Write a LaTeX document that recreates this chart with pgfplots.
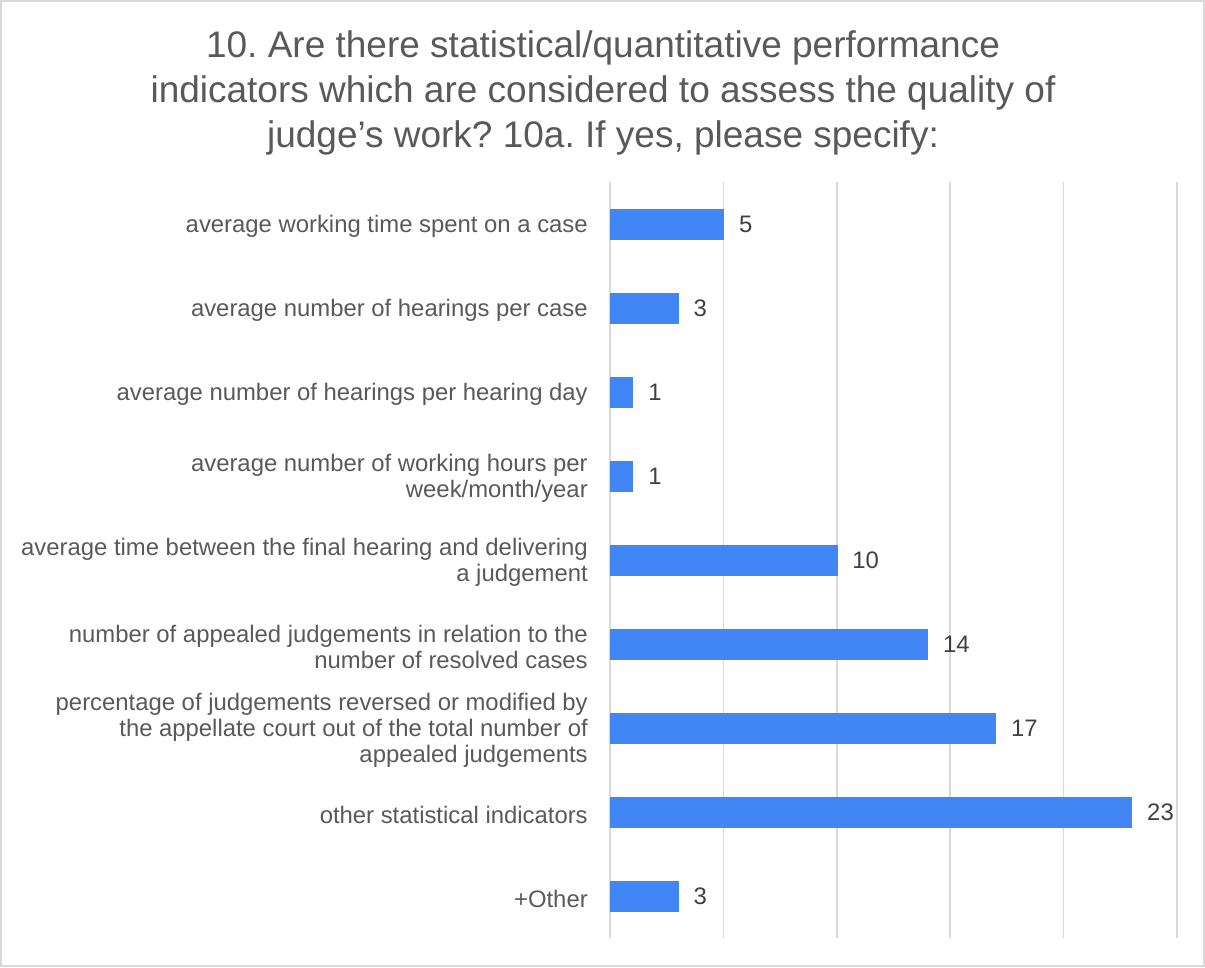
\documentclass[border=0pt]{standalone}
\usepackage{pgfplots}
\pgfplotsset{compat=1.18}
\usepackage{fontspec}
\setmainfont{Liberation Sans}
\frenchspacing
\definecolor{barblue}{HTML}{4285F4}
\definecolor{gridgray}{HTML}{D9D9D9}
\definecolor{txtgray}{HTML}{595959}
\definecolor{numgray}{HTML}{404040}
\begin{document}
\begin{tikzpicture}
\path[use as bounding box] (0,0) rectangle (903.75pt,725.25pt);
\draw[gridgray, line width=1pt] (0.75pt,0.75pt) rectangle (903pt,724.5pt);
\node[align=center, text=txtgray, font=\fontsize{27.75}{33.75}\selectfont] at (452.25pt,655.5pt)
  {10. Are there statistical/quantitative performance\\indicators which are considered to assess the quality of\\judge’s work? 10a. If yes, please specify:};
\begin{axis}[
  at={(457.5pt,21.75pt)}, anchor=south west,
  scale only axis, width=425.25pt, height=567pt,
  xbar, bar width=22.5pt,
  xmin=0, xmax=25, ymin=-0.5, ymax=8.5,
  y dir=reverse,
  xtick={0,5,10,15,20,25}, xticklabels={},
  xmajorgrids, grid style={gridgray, line width=1.1pt},
  major tick length=0pt,
  axis line style={draw=none},
  ytick={0,...,8},
  yticklabels={
    {average working time spent on a case},
    {average number of hearings per case},
    {average number of hearings per hearing day},
    {average number of working hours per\\week/month/year},
    {average time between the final hearing and delivering\\a judgement},
    {number of appealed judgements in relation to the\\number of resolved cases},
    {percentage of judgements reversed or modified by\\the appellate court out of the total number of\\appealed judgements},
    {other statistical indicators},
    {+Other}},
  yticklabel style={align=right, text=txtgray, font=\fontsize{17.9}{19.5}\selectfont, inner sep=0pt, xshift=-16.5pt, yshift=-2pt},
  nodes near coords,
  every node near coord/.append style={anchor=west, inner sep=0pt, xshift=11.5pt, text=numgray, font=\fontsize{17.9}{19.5}\selectfont},
  /pgf/number format/assume math mode=true,
]
\addplot[fill=barblue, draw=barblue] coordinates {(5,0) (3,1) (1,2) (1,3) (10,4) (14,5) (17,6) (23,7) (3,8)};
\end{axis}
\end{tikzpicture}
\end{document}
